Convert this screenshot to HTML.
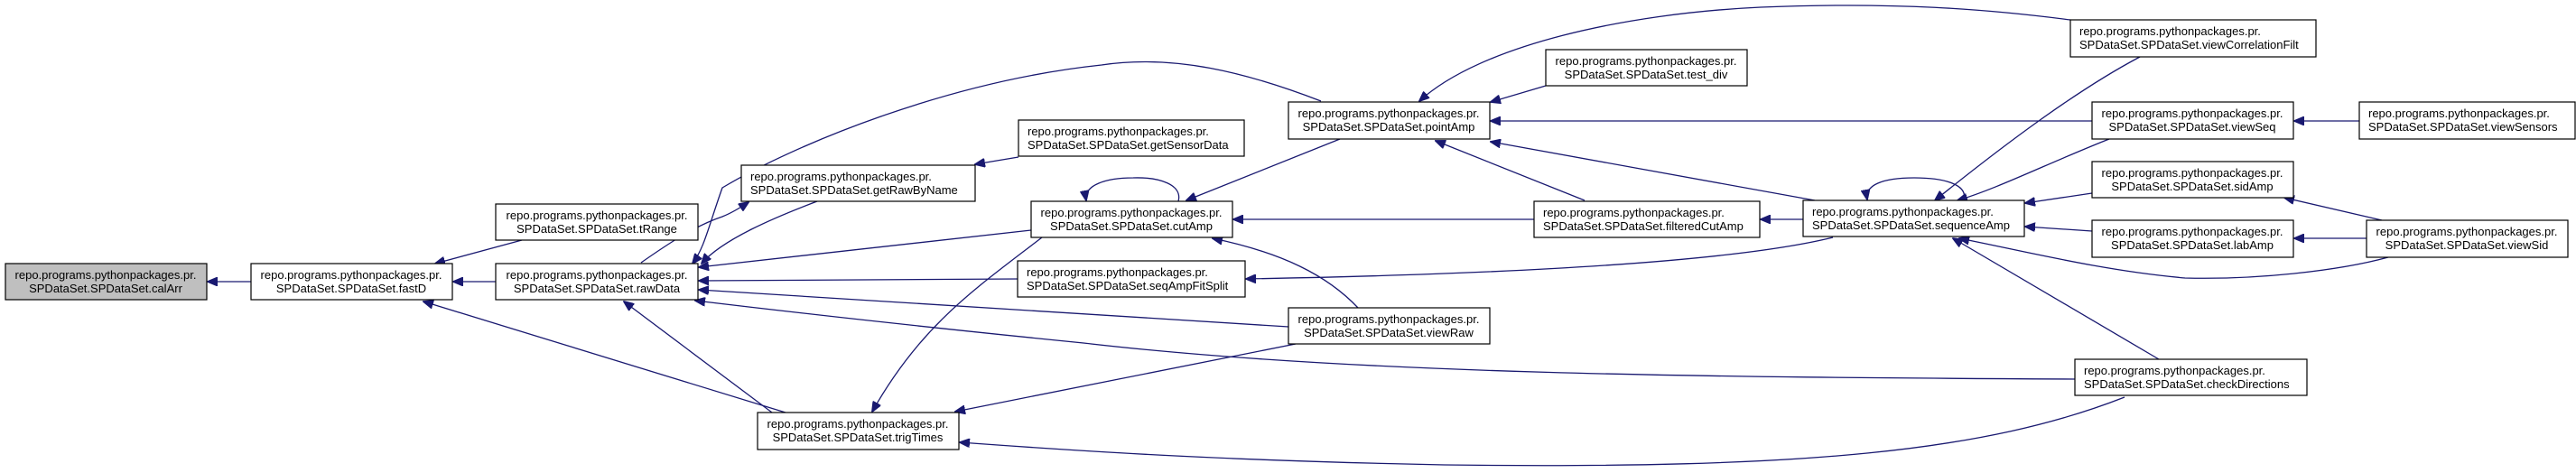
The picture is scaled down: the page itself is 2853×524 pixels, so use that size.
<!DOCTYPE html>
<html><head><meta charset="utf-8"><style>
html,body{margin:0;padding:0;background:#fff;}
svg{display:block;}
text{font-family:"Liberation Sans",Arial,sans-serif;font-size:13px;fill:#000;}
.n{fill:#fff;stroke:#000;stroke-width:1.2;}
.e{fill:none;stroke:#191970;stroke-width:1.3;}
</style></head><body>
<svg width="2853" height="524" viewBox="0 0 2853 524" xmlns="http://www.w3.org/2000/svg">
<defs><marker id="a" markerWidth="12" markerHeight="10" refX="11" refY="5" orient="auto" markerUnits="userSpaceOnUse"><path d="M0,0 L12,5 L0,10 z" fill="#191970" stroke="#191970"/></marker></defs>
<g marker-end="url(#a)">
<path class="e" d="M278,312 L230,312"/>
<path class="e" d="M549,312 L502,312"/>
<path class="e" d="M578,266 L482,292"/>
<path class="e" d="M870,457 L469,334"/>
<path class="e" d="M855,457 L691,334"/>
<path class="e" d="M710,291 C740,270 770,250 800,240 C810,236 820,230 829,224"/>
<path class="e" d="M905,223 C860,240 800,265 777,292"/>
<path class="e" d="M1463,112 C1380,80 1300,60 1220,72 C1050,90 880,160 800,208 C785,250 780,275 767,292"/>
<path class="e" d="M1142,255 L774,296"/>
<path class="e" d="M1127,309 L774,311"/>
<path class="e" d="M1427,362 L774,321"/>
<path class="e" d="M2300,420 C1900,418 1500,415 1200,380 C1000,360 870,345 770,333"/>
<path class="e" d="M1128,174 L1080,182"/>
<path class="e" d="M1305,223 C1310,205 1285,196 1255,197 C1225,197 1200,205 1203,222"/>
<path class="e" d="M1484,154 L1314,222"/>
<path class="e" d="M1154,263 C1080,320 1020,360 966,456"/>
<path class="e" d="M1504,341 C1470,305 1420,280 1343,264"/>
<path class="e" d="M1435,381 L1058,456"/>
<path class="e" d="M2353,440 C2200,500 2000,520 1600,515 C1350,510 1200,500 1063,490"/>
<path class="e" d="M2293,22 C2200,10 2100,2 1950,8 C1800,15 1640,50 1572,112"/>
<path class="e" d="M2370,63 C2300,100 2220,160 2143,222"/>
<path class="e" d="M1712,95 L1651,113"/>
<path class="e" d="M2317,134 L1651,134"/>
<path class="e" d="M2010,222 L1651,157"/>
<path class="e" d="M1755,222 L1590,156"/>
<path class="e" d="M1699,243 L1366,243"/>
<path class="e" d="M1998,243 L1950,243"/>
<path class="e" d="M2030,263 C1900,295 1600,305 1380,309"/>
<path class="e" d="M2175,222 C2180,205 2155,197 2120,197 C2085,197 2065,205 2068,221"/>
<path class="e" d="M2336,154 C2270,180 2210,210 2168,222"/>
<path class="e" d="M2613,134 L2541,134"/>
<path class="e" d="M2317,214 L2243,225"/>
<path class="e" d="M2317,256 L2243,251"/>
<path class="e" d="M2638,244 L2530,219"/>
<path class="e" d="M2621,264 L2541,264"/>
<path class="e" d="M2645,285 C2590,300 2500,310 2420,308 C2330,300 2250,280 2170,264"/>
<path class="e" d="M2391,398 L2163,264"/>
</g>
<rect x="6" y="292" width="223" height="40" fill="#bfbfbf" stroke="#000" stroke-width="1.2"/>
<text x="117" y="309" text-anchor="middle">repo.programs.pythonpackages.pr.</text><text x="117" y="324" text-anchor="middle">SPDataSet.SPDataSet.calArr</text>
<g id="nodes"></g>
<rect class="n" x="278" y="292" width="223" height="40"/><text x="389" y="309" text-anchor="middle">repo.programs.pythonpackages.pr.</text><text x="389" y="324" text-anchor="middle">SPDataSet.SPDataSet.fastD</text>
<rect class="n" x="549" y="226" width="224" height="40"/><text x="661" y="243" text-anchor="middle">repo.programs.pythonpackages.pr.</text><text x="661" y="258" text-anchor="middle">SPDataSet.SPDataSet.tRange</text>
<rect class="n" x="549" y="292" width="224" height="40"/><text x="661" y="309" text-anchor="middle">repo.programs.pythonpackages.pr.</text><text x="661" y="324" text-anchor="middle">SPDataSet.SPDataSet.rawData</text>
<rect class="n" x="821" y="183" width="259" height="40"/><text x="831" y="200">repo.programs.pythonpackages.pr.</text><text x="831" y="215">SPDataSet.SPDataSet.getRawByName</text>
<rect class="n" x="839" y="457" width="223" height="41"/><text x="950" y="474" text-anchor="middle">repo.programs.pythonpackages.pr.</text><text x="950" y="489" text-anchor="middle">SPDataSet.SPDataSet.trigTimes</text>
<rect class="n" x="1128" y="133" width="250" height="40"/><text x="1138" y="150">repo.programs.pythonpackages.pr.</text><text x="1138" y="165">SPDataSet.SPDataSet.getSensorData</text>
<rect class="n" x="1142" y="223" width="223" height="40"/><text x="1253" y="240" text-anchor="middle">repo.programs.pythonpackages.pr.</text><text x="1253" y="255" text-anchor="middle">SPDataSet.SPDataSet.cutAmp</text>
<rect class="n" x="1127" y="289" width="252" height="40"/><text x="1137" y="306">repo.programs.pythonpackages.pr.</text><text x="1137" y="321">SPDataSet.SPDataSet.seqAmpFitSplit</text>
<rect class="n" x="1427" y="113" width="223" height="41"/><text x="1538" y="130" text-anchor="middle">repo.programs.pythonpackages.pr.</text><text x="1538" y="145" text-anchor="middle">SPDataSet.SPDataSet.pointAmp</text>
<rect class="n" x="1427" y="341" width="223" height="40"/><text x="1538" y="358" text-anchor="middle">repo.programs.pythonpackages.pr.</text><text x="1538" y="373" text-anchor="middle">SPDataSet.SPDataSet.viewRaw</text>
<rect class="n" x="1712" y="55" width="223" height="40"/><text x="1823" y="72" text-anchor="middle">repo.programs.pythonpackages.pr.</text><text x="1823" y="87" text-anchor="middle">SPDataSet.SPDataSet.test_div</text>
<rect class="n" x="1699" y="223" width="250" height="40"/><text x="1709" y="240">repo.programs.pythonpackages.pr.</text><text x="1709" y="255">SPDataSet.SPDataSet.filteredCutAmp</text>
<rect class="n" x="1997" y="222" width="245" height="40"/><text x="2007" y="239">repo.programs.pythonpackages.pr.</text><text x="2007" y="254">SPDataSet.SPDataSet.sequenceAmp</text>
<rect class="n" x="2293" y="22" width="272" height="41"/><text x="2303" y="39">repo.programs.pythonpackages.pr.</text><text x="2303" y="54">SPDataSet.SPDataSet.viewCorrelationFilt</text>
<rect class="n" x="2317" y="113" width="223" height="41"/><text x="2428" y="130" text-anchor="middle">repo.programs.pythonpackages.pr.</text><text x="2428" y="145" text-anchor="middle">SPDataSet.SPDataSet.viewSeq</text>
<rect class="n" x="2317" y="179" width="223" height="40"/><text x="2428" y="196" text-anchor="middle">repo.programs.pythonpackages.pr.</text><text x="2428" y="211" text-anchor="middle">SPDataSet.SPDataSet.sidAmp</text>
<rect class="n" x="2317" y="244" width="223" height="41"/><text x="2428" y="261" text-anchor="middle">repo.programs.pythonpackages.pr.</text><text x="2428" y="276" text-anchor="middle">SPDataSet.SPDataSet.labAmp</text>
<rect class="n" x="2298" y="398" width="257" height="40"/><text x="2308" y="415">repo.programs.pythonpackages.pr.</text><text x="2308" y="430">SPDataSet.SPDataSet.checkDirections</text>
<rect class="n" x="2613" y="113" width="239" height="41"/><text x="2623" y="130">repo.programs.pythonpackages.pr.</text><text x="2623" y="145">SPDataSet.SPDataSet.viewSensors</text>
<rect class="n" x="2621" y="244" width="223" height="41"/><text x="2732" y="261" text-anchor="middle">repo.programs.pythonpackages.pr.</text><text x="2732" y="276" text-anchor="middle">SPDataSet.SPDataSet.viewSid</text>
</svg>
</body></html>
